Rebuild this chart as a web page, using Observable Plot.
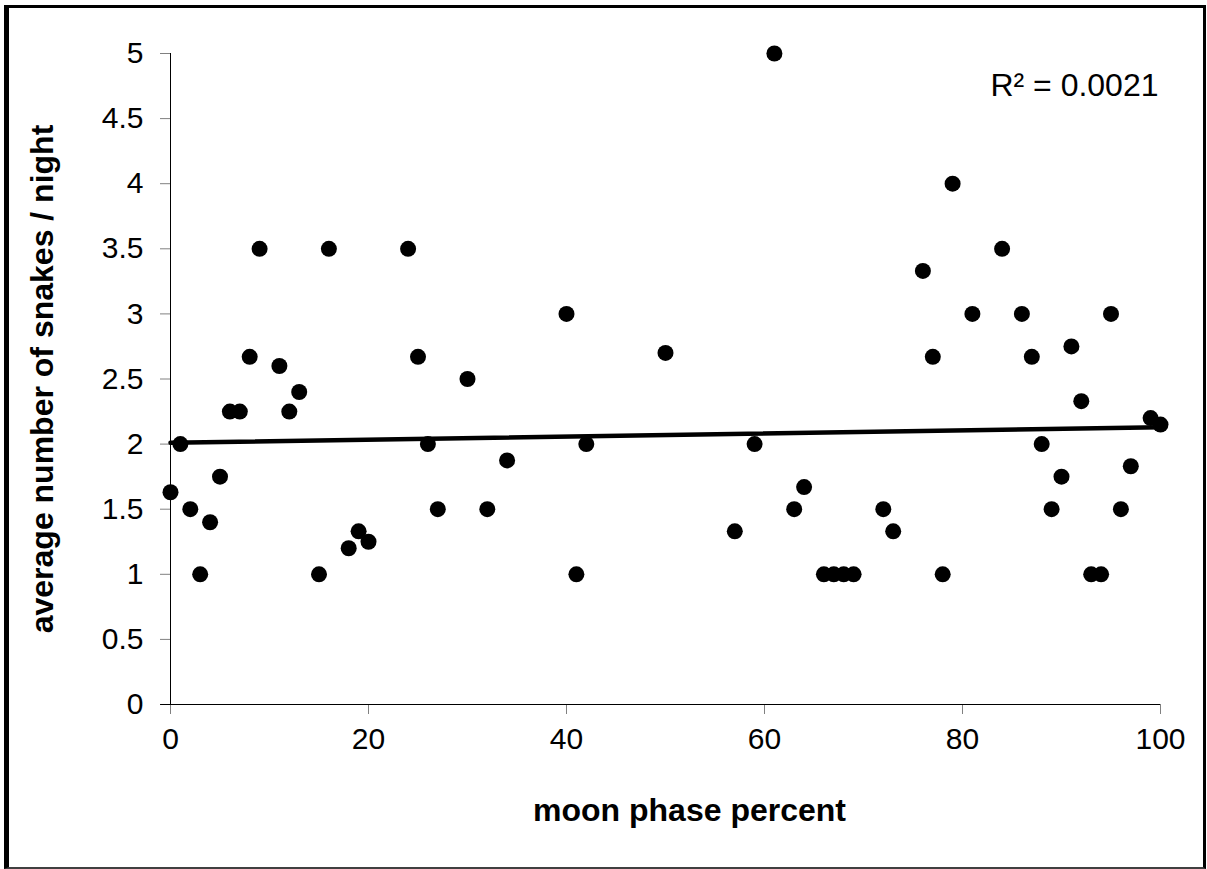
<!DOCTYPE html>
<html>
<head>
<meta charset="utf-8">
<script src="https://cdn.jsdelivr.net/npm/d3@7"></script>
<script src="https://cdn.jsdelivr.net/npm/@observablehq/plot@0.6"></script>
<style>
  html, body { margin: 0; padding: 0; background: #fff; }
  #wrap { position: relative; width: 1207px; height: 869px; overflow: hidden; }
  #wrap svg { position: absolute; left: 0; top: 0; }
  #frame { position: absolute; left: 4px; top: 5px; width: 1202px; height: 864px;
           box-sizing: border-box; border-left: 5px solid #000; border-top: 3px solid #000;
           border-right: 3px solid #000; border-bottom: 2px solid #404040; pointer-events: none; }
</style>
</head>
<body>
<div id="wrap"><div id="frame"></div></div>
<script>
const moonPhase = [0,1,2,3,4,5,6,7,8,9,11,12,13,15,16,18,19,20,24,25,26,27,30,32,34,40,41,42,50,57,59,61,63,64,66,67,68,69,72,73,76,77,78,79,81,84,86,87,88,89,90,91,92,93,94,95,96,97,99,100];
const snakesPerNight = [1.63,2,1.5,1,1.4,1.75,2.25,2.25,2.67,3.5,2.6,2.25,2.4,1,3.5,1.2,1.33,1.25,3.5,2.67,2,1.5,2.5,1.5,1.875,3,1,2,2.7,1.33,2,5,1.5,1.67,1,1,1,1,1.5,1.33,3.33,2.67,1,4,3,3.5,3,2.67,2,1.5,1.75,2.75,2.33,1,1,3,1.5,1.83,2.2,2.15];
const xTicks = [0,20,40,60,80,100];
const yTicks = [0,0.5,1,1.5,2,2.5,3,3.5,4,4.5,5];
const xTitle = "moon phase percent";
const yTitle = "average number of snakes / night";
const r2Label = "R² = 0.0021";

const table = moonPhase.map((p, i) => ({phase: p, snakes: snakesPerNight[i]}));

const chart = Plot.plot({
  width: 1207,
  height: 869,
  marginLeft: 170,
  marginRight: 47,
  marginTop: 53,
  marginBottom: 165,
  x: {domain: [0, 100]},
  y: {domain: [0, 5]},
  style: {fontFamily: "'Liberation Sans', Arial, sans-serif", background: "transparent", color: "black"},
  marks: [
    Plot.axisY({ticks: yTicks, tickSize: 10, tickPadding: 17, fontSize: 30, stroke: "#808080", fill: "black", label: null, tickFormat: d => String(d)}),
    Plot.axisX({ticks: xTicks, tickSize: 10, tickPadding: 13, fontSize: 30, stroke: "#808080", fill: "black", label: null, tickFormat: d => String(d)}),
    Plot.ruleX([0], {stroke: "black", strokeWidth: 1}),
    Plot.ruleY([0], {x1: -1, x2: 100, stroke: "black", strokeWidth: 1}),
    Plot.dot(table, {x: "phase", y: "snakes", r: 8, fill: "black", stroke: "none"}),
    Plot.linearRegressionY(table, {x: "phase", y: "snakes", ci: 0, stroke: "black", strokeWidth: 4.5}),
    Plot.text([xTitle], {text: d => d, frameAnchor: "bottom", textAnchor: "middle", lineAnchor: "bottom", dx: 24, dy: 116, fontSize: 32, fontWeight: "bold", fill: "black"}),
    Plot.text([yTitle], {text: d => d, frameAnchor: "left", textAnchor: "middle", lineAnchor: "middle", rotate: -90, dx: -128, fontSize: 32, fontWeight: "bold", fill: "black"}),
    Plot.text([r2Label], {text: d => d, frameAnchor: "top-right", textAnchor: "end", lineAnchor: "bottom", dx: -2, dy: 42, fontSize: 32, fill: "black"})
  ]
});
document.getElementById("wrap").prepend(chart);
</script>
</body>
</html>
